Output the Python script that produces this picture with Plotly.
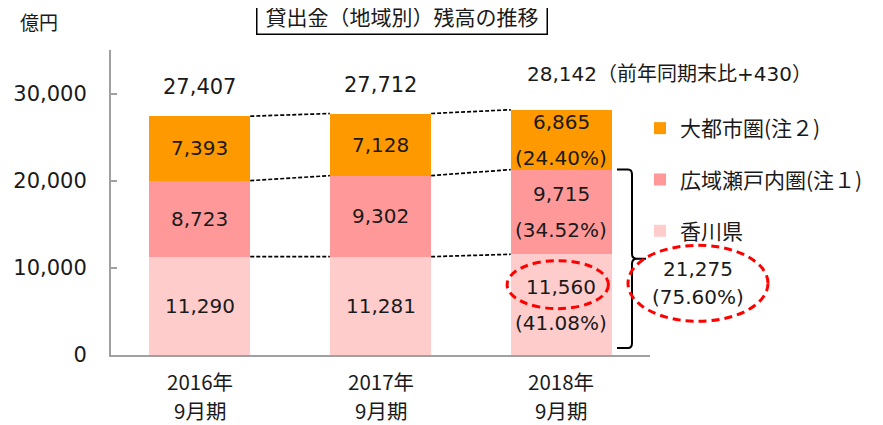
import plotly.graph_objects as go

# ---------------- data ----------------
categories = ["2016年", "2017年", "2018年"]
periods = ["9月期", "9月期", "9月期"]
series_names = ["香川県", "広域瀬戸内圏(注１)", "大都市圏(注２)"]
kagawa = [11290, 11281, 11560]
setouchi = [8723, 9302, 9715]
toshi = [7393, 7128, 6865]
totals = [27407, 27712, 28142]
share_last = ["(41.08%)", "(34.52%)", "(24.40%)"]
total_note = "（前年同期末比+430）"
combined_value = 21275
combined_share = "(75.60%)"
y_ticks = [0, 10000, 20000, 30000]
title_text = "貸出金（地域別）残高の推移"
unit_text = "億円"

# ---------------- style ----------------
colors = ["#FFCCCC", "#FF9999", "#FF9900"]
legend_rank = [3, 2, 1]
NUM_FONT = "DejaVu Sans, Noto Sans CJK JP"
JP_FONT = "Noto Sans CJK JP"
TXT = "#1a1a1a"
AXIS = "#A0A0A0"
OFF = 8  # page body margin
W, H = 883, 425
ML, MT = 111 - OFF, 50 - OFF
PW, PH = 539, 305
MR, MB = W - ML - PW, H - MT - PH
XR = [-0.49, 2.49]
YR = [0, 35000]
BAR_W = 0.56


def px_x(px):
    return (px - OFF - ML) / PW


def px_y(px):
    return (MT + PH - (px - OFF)) / PH


def dy(pixels):
    return pixels * (YR[1] - YR[0]) / PH


xs = list(range(len(categories)))
series = [kagawa, setouchi, toshi]

fig = go.Figure()
for name, vals, col, rk in zip(series_names, series, colors, legend_rank):
    fig.add_trace(go.Bar(
        x=xs, y=vals, name=name, width=BAR_W,
        marker=dict(color=col, line=dict(width=0)),
        legendgroup=name, legendrank=rk, hoverinfo="skip",
    ))

# dashed connectors between stacks
levels = []
cum = [0] * len(xs)
for vals in series:
    cum = [c + v for c, v in zip(cum, vals)]
    levels.append(list(cum))
for lv in levels:
    for i in range(len(xs) - 1):
        fig.add_trace(go.Scatter(
            x=[xs[i] + BAR_W / 2, xs[i + 1] - BAR_W / 2], y=[lv[i], lv[i + 1]],
            mode="lines", line=dict(color="black", width=1.7, dash="4px,2px"),
            showlegend=False, hoverinfo="skip",
        ))


def txt(**kw):
    d = dict(showarrow=False, xanchor="center", yanchor="middle")
    d.update(kw)
    return d


ann = []
# segment labels
last = len(xs) - 1
bottoms = [[0] * len(xs)] + levels[:-1]
for s, vals in enumerate(series):
    for i in xs:
        mid = bottoms[s][i] + vals[i] / 2
        f = dict(family=NUM_FONT, size=20, color=TXT)
        if i < last:
            ann.append(txt(x=i, y=mid, text=f"{vals[i]:,}", font=f))
        else:
            ann.append(txt(x=i, y=mid, text=f"{vals[i]:,}", yshift=18, font=f))
            ann.append(txt(x=i, y=mid, text=share_last[s], yshift=-18, font=f))

# totals
for i in xs:
    f = dict(family=NUM_FONT, size=21, color=TXT)
    if i < last:
        ann.append(txt(x=i, y=totals[i], text=f"{totals[i]:,}", yanchor="bottom",
                       yshift=15, font=f))
    else:
        ann.append(txt(x=i - 0.2, y=totals[i], text=f"{totals[i]:,}{total_note}",
                       xanchor="left", yanchor="bottom", yshift=22,
                       font=dict(family=NUM_FONT, size=20, color=TXT)))

# category labels
for i in xs:
    f = dict(family=JP_FONT, size=20.5, color=TXT)
    ann.append(txt(x=i, y=px_y(381), yref="paper", text=categories[i], font=f))
    ann.append(txt(x=i, y=px_y(410), yref="paper", text=periods[i], font=f))

# title box and unit
ann.append(txt(x=px_x(401.5), y=px_y(15), xref="paper", yref="paper", text=title_text,
               bordercolor="black", borderwidth=1.5, borderpad=3, width=283,
               font=dict(family=JP_FONT, size=21, color=TXT)))
ann.append(txt(x=px_x(39), y=px_y(21.5), xref="paper", yref="paper", text=unit_text,
               font=dict(family=JP_FONT, size=19, color=TXT)))

# combined label (beside the brace)
comb_y = combined_value / 2 - dy(21)
f = dict(family=NUM_FONT, size=20, color=TXT)
ann.append(txt(x=px_x(698), y=comb_y, xref="paper", text=f"{combined_value:,}",
               yshift=14, font=f))
ann.append(txt(x=px_x(698), y=comb_y, xref="paper", text=combined_share,
               yshift=-14, font=f))

shapes = []
# brace
bx0, bx1, bx2 = px_x(617), px_x(632), px_x(646)
top_v = combined_value
bot_v = dy(7)
mid_v = (top_v + bot_v) / 2
r = dy(5)
path = (f"M{bx0},{top_v} L{px_x(628)},{top_v} Q{bx1},{top_v} {bx1},{top_v - r} "
        f"L{bx1},{mid_v + r} Q{bx1},{mid_v} {px_x(637)},{mid_v} L{bx2},{mid_v} "
        f"M{px_x(637)},{mid_v} Q{bx1},{mid_v} {bx1},{mid_v - r} "
        f"L{bx1},{bot_v + r} Q{bx1},{bot_v} {px_x(628)},{bot_v} L{bx0},{bot_v}")
shapes.append(dict(type="path", path=path, xref="paper", yref="y",
                   line=dict(color="black", width=2)))

# red dashed ellipses
small_c = kagawa[last] / 2 + dy(20)
shapes.append(dict(type="circle", xref="x", yref="y",
                   x0=last - 0.30, x1=last + 0.26,
                   y0=small_c - dy(24), y1=small_c + dy(24),
                   line=dict(color="#FF0000", width=3, dash="8px,5px")))
shapes.append(dict(type="circle", xref="paper", yref="y",
                   x0=px_x(628), x1=px_x(768),
                   y0=comb_y - dy(38), y1=comb_y + dy(38),
                   line=dict(color="#FF0000", width=3, dash="8px,5px")))

fig.update_layout(
    width=W, height=H,
    margin=dict(l=ML, r=MR, t=MT, b=MB, autoexpand=False),
    barmode="stack",
    plot_bgcolor="white", paper_bgcolor="white",
    showlegend=True,
    legend=dict(x=px_x(640), y=px_y(108), xanchor="left", yanchor="top",
                traceorder="grouped", tracegroupgap=21,
                font=dict(family=JP_FONT, size=21, color=TXT),
                bgcolor="rgba(0,0,0,0)"),
    xaxis=dict(range=XR, showline=True, linecolor=AXIS, linewidth=2,
               showticklabels=False, ticks="", showgrid=False, zeroline=False,
               fixedrange=True),
    yaxis=dict(range=YR, tickvals=y_ticks, tickformat=",", ticks="inside", ticklen=6,
               tickcolor=AXIS, tickwidth=1.5, showline=True, linecolor=AXIS, linewidth=2,
               showgrid=False, zeroline=False, ticklabelstandoff=18,
               tickfont=dict(family=NUM_FONT, size=21, color=TXT)),
    annotations=ann,
    shapes=shapes,
)

fig.write_html("out.html")
